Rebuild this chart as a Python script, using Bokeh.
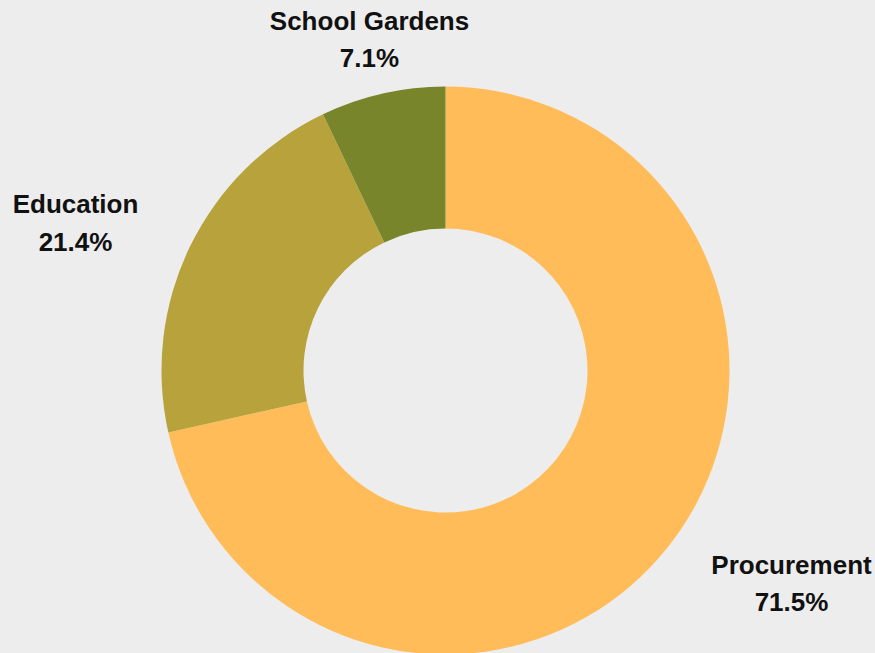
import math
from bokeh.plotting import figure
from bokeh.models import Range1d, ColumnDataSource
from bokeh.core.properties import value
from bokeh.embed import file_html
from bokeh.resources import INLINE

categories = ["Procurement", "Education", "School Gardens"]
shares = [71.5, 21.4, 7.1]
colors = ["#FFBC59", "#B7A23C", "#79852A"]
pct_labels = ["71.5%", "21.4%", "7.1%"]

W, H = 875, 653
BG = "#EDEDED"

# screen-pixel based data space: x = screen x, y = 653 - screen y
p = figure(width=W, height=H, output_backend="svg", toolbar_location=None,
           x_range=Range1d(0, W), y_range=Range1d(0, H),
           min_border=0)
p.axis.visible = False
p.grid.visible = False
p.outline_line_color = None
p.background_fill_color = BG
p.border_fill_color = BG

cx, cy = 445, 653 - 370
r_out, r_in = 284, 142

total = sum(shares)
starts, ends = [], []
a = math.pi / 2
for s in shares:
    starts.append(a)
    a -= s / total * 2 * math.pi
    ends.append(a)

src = ColumnDataSource(dict(start=starts, end=ends, color=colors, cat=categories))
p.annular_wedge(x=cx, y=cy, inner_radius=r_in, outer_radius=r_out,
                start_angle="start", end_angle="end", direction="clock",
                fill_color="color", line_color=None, source=src)

# label anchor positions (screen px) for each category
label_x = [791, 75, 369]
label_y1 = [564, 203, 20]
label_y2 = [601, 241, 57]

lsrc = ColumnDataSource(dict(
    x=label_x, y1=[653 - v for v in label_y1], y2=[653 - v for v in label_y2],
    name=categories, pct=pct_labels))
for col, ycol in (("name", "y1"), ("pct", "y2")):
    p.text(x="x", y=ycol, text=col, source=lsrc,
           text_font=value("Liberation Sans"), text_font_style="bold",
           text_font_size="26px", text_color="#111111",
           text_align="center", text_baseline="middle")

html = file_html(p, INLINE)
html = html.replace("<head>", "<head><style>html,body{margin:0;padding:0;overflow:hidden;background:%s}</style>" % BG, 1)
open("out.html", "w").write(html)
